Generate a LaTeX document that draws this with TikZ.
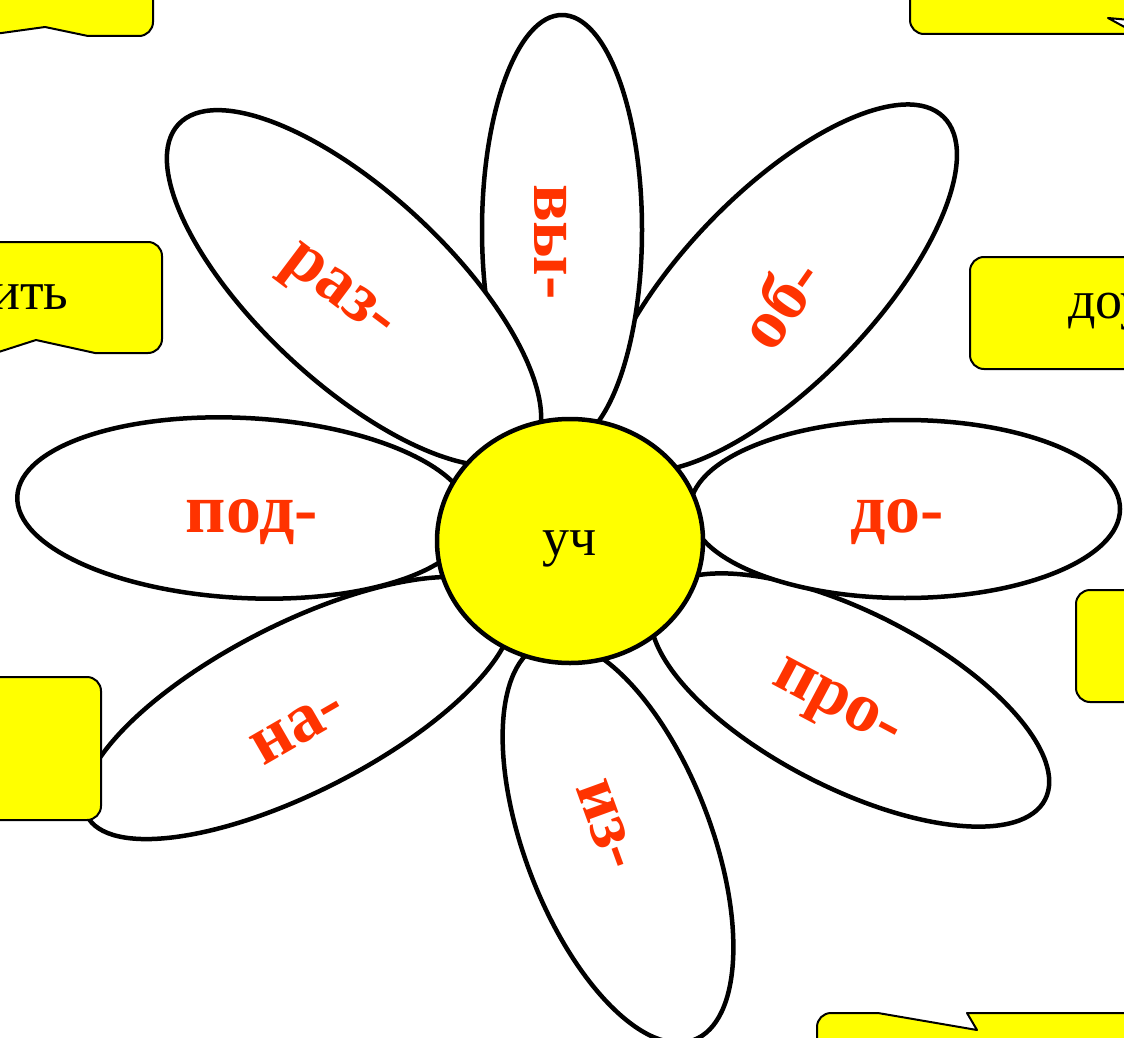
\documentclass[tikz,border=0pt]{standalone}
\usepackage{fontspec}
\setmainfont{Liberation Serif}
\usetikzlibrary{shapes.geometric}

\definecolor{pfxred}{HTML}{FF3300}
\definecolor{boxyellow}{HTML}{FFFF00}

\begin{document}
\begin{tikzpicture}[x=1pt, y=-1pt, line cap=round, line join=round,
	petal/.style={draw=black, fill=white, line width=4.5pt},
	pfx/.style={text=pfxred, inner sep=0pt, font=\fontsize{70}{74}\selectfont\bfseries},
	callout/.style={draw=black, fill=boxyellow, line width=2pt},
	word/.style={inner sep=0pt, font=\fontsize{54}{60}\selectfont}]

\useasboundingbox (0,0) rectangle (1124,1038);
\clip (0,0) rectangle (1124,1038);

% petals
\draw[petal, rotate around={46:(778,288)}] (778,288) ellipse [x radius=238, y radius=95];
\draw[petal] (562,230) ellipse [x radius=80, y radius=215];
\draw[petal, rotate around={-43:(354,288)}] (354,288) ellipse [x radius=240, y radius=95];
\draw[petal, rotate around={-3:(244,508)}] (244,508) ellipse [x radius=227, y radius=90];
\draw[petal, rotate around={27:(298,708)}] (298,708) ellipse [x radius=237, y radius=84];
\draw[petal, rotate around={-69:(618,842)}] (618,842) ellipse [x radius=212, y radius=93];
\draw[petal, rotate around={-27:(850,700)}] (850,700) ellipse [x radius=219, y radius=88];
\draw[petal] (905,509) ellipse [x radius=215, y radius=89];

% centre
\node[ellipse, draw=black, line width=4.5pt, fill=boxyellow, minimum width=266pt, minimum height=244pt] (core) at (570,541) {};
\node[word] (wUch) at (570,549) {уч};

% prefixes
\node[pfx, rotate=-90] (pVy) at (551,242) {вы-};
\node[pfx, rotate=55] (pOb) at (779,302) {об-};
\node[pfx, rotate=-37] (pRaz) at (336,296) {раз-};
\node[pfx] (pPod) at (252,522) {под-};
\node[pfx] (pDo) at (897,522) {до-};
\node[pfx, rotate=30] (pNa) at (298,728) {на-};
\node[pfx, rotate=-28] (pPro) at (835,708) {про-};
\node[pfx, rotate=-70] (pIz) at (606,825) {из-};

% callouts
\draw[callout] (-20,-20) -- (153,-20) [rounded corners=14pt] -- (153,36) [sharp corners] -- (88,36) -- (45,27) -- (-20,36) -- cycle;
\draw[callout] (1140,-20) -- (910,-20) [rounded corners=14pt] -- (910,34) -- (1140,34) [sharp corners] -- cycle;
\draw[callout, fill=white] (1108,18) -- (1130,20) -- (1130,30) -- cycle;
\draw[callout] (-20,242) [rounded corners=14pt] -- (162,242) -- (162,353) [sharp corners] -- (95,353) -- (36,340) -- (-20,358) -- cycle;
\draw[callout, rounded corners=14pt] (1140,257) -- (970,257) -- (970,369) -- (1140,369);
\draw[callout, rounded corners=14pt] (1140,590) -- (1076,590) -- (1076,702) -- (1140,702);
\draw[callout, rounded corners=14pt] (-20,677) -- (101,677) -- (101,820) -- (-20,820);
\draw[callout] (1140,1060) -- (817,1060) [rounded corners=14pt] -- (817,1013) [sharp corners] -- (878,1013) -- (977,1030) -- (967,1013) -- (1140,1013) -- cycle;

% callout words
\node[word, anchor=west] (wIt) at (-9,297) {ить};
\node[word, anchor=west] (wDou) at (1068,312) {доу};

\end{tikzpicture}
\end{document}
